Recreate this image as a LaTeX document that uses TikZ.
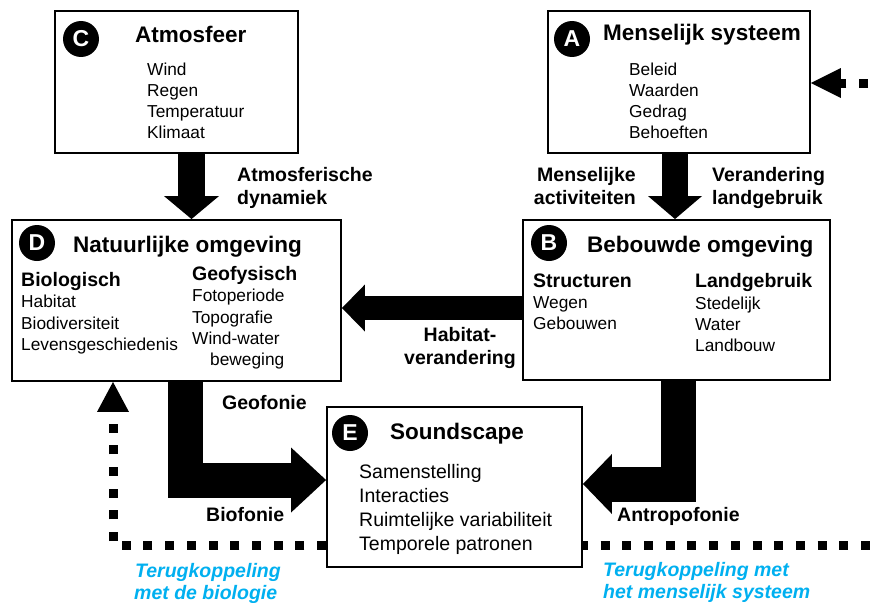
\documentclass[tikz,border=0pt]{standalone}
\usepackage{fontspec}
\setmainfont{Liberation Sans}
\usetikzlibrary{arrows.meta,calc}
\definecolor{fbblue}{RGB}{0,176,240}
\begin{document}
\begin{tikzpicture}[x=1pt,y=-1pt,
  box/.style={draw=black, line width=1.9pt, rectangle, inner sep=0pt, fill=white},
  badge/.style={circle, fill=black, text=white, minimum size=36pt, inner sep=0pt, font=\fontsize{23}{25}\selectfont\bfseries},
  title/.style={anchor=base west, inner sep=0pt, font=\fontsize{22.5}{26}\selectfont\bfseries},
  body/.style={anchor=base west, inner sep=0pt, font=\fontsize{17.3}{20}\selectfont},
  ebody/.style={anchor=base west, inner sep=0pt, font=\fontsize{19.5}{22}\selectfont},
  sub/.style={anchor=base west, inner sep=0pt, font=\fontsize{19.5}{22}\selectfont\bfseries},
  lab/.style={inner sep=0pt, font=\fontsize{19.5}{22}\selectfont\bfseries},
  fbtext/.style={anchor=base west, inner sep=0pt, text=fbblue, font=\fontsize{19.5}{22}\selectfont\bfseries\itshape},
  big/.style={draw=black, line width=#1, line join=miter, line cap=butt},
  fb/.style={draw=black, line width=9pt, dash pattern=on 9pt off 12.7pt, line cap=butt}
]
\useasboundingbox (0,0) rectangle (877,602);
\fill[white] (0,0) rectangle (877,602);

% boxes
\node[box, minimum width=243pt, minimum height=142pt] (C) at (176.5,82) {};
\node[box, minimum width=262pt, minimum height=142pt] (A) at (679,82) {};
\node[box, minimum width=329pt, minimum height=161pt] (D) at (176.5,300.5) {};
\node[box, minimum width=307pt, minimum height=160pt] (B) at (676.5,300) {};
\node[box, minimum width=255pt, minimum height=160pt] (E) at (454.5,487) {};

% badges
\node[badge] (bC) at (81,39) {C};
\node[badge] (bA) at (572,39) {A};
\node[badge] (bD) at (37,243) {D};
\node[badge] (bB) at (549,243) {B};
\node[badge] (bE) at (350,433) {E};

% titles
\node[title] (tC) at (135,42) {Atmosfeer};
\node[title] (tA) at (603,41) {Menselijk systeem};
\node[title] (tD) at (73,252) {Natuurlijke omgeving};
\node[title] (tB) at (587,252) {Bebouwde omgeving};
\node[title] (tE) at (390,439) {Soundscape};

% C items
\foreach \t [count=\i] in {Wind,Regen,Temperatuur,Klimaat}
  \node[body] (c\i) at (147,{75+21*(\i-1)}) {\t};
% A items
\foreach \t [count=\i] in {Beleid,Waarden,Gedrag,Behoeften}
  \node[body] (a\i) at (629,{75+21*(\i-1)}) {\t};

% D contents
\node[sub] (dbio) at (21,286) {Biologisch};
\foreach \t [count=\i] in {Habitat,Biodiversiteit,Levensgeschiedenis}
  \node[body] (db\i) at (21,{307.7+21.4*(\i-1)}) {\t};
\node[sub] (dgeo) at (192,280) {Geofysisch};
\foreach \t [count=\i] in {Fotoperiode,Topografie,Wind-water}
  \node[body] (dg\i) at (192,{301.7+21.3*(\i-1)}) {\t};
\node[body] (dg4) at (210,365.7) {beweging};

% B contents
\node[sub] (bstr) at (533,287) {Structuren};
\foreach \t [count=\i] in {Wegen,Gebouwen}
  \node[body] (bs\i) at (533,{308+21.4*(\i-1)}) {\t};
\node[sub] (bland) at (695,287) {Landgebruik};
\foreach \t [count=\i] in {Stedelijk,Water,Landbouw}
  \node[body] (bl\i) at (695,{309+21.4*(\i-1)}) {\t};

% E contents
\foreach \t [count=\i] in {Samenstelling,Interacties,Ruimtelijke variabiliteit,Temporele patronen}
  \node[ebody] (e\i) at (359,{478+24*(\i-1)}) {\t};

% thick arrows
\draw[big=27pt, -{Triangle[width=55pt,length=23pt,line width=0pt]}]
  ([xshift=15pt]C.south) -- ([xshift=15pt]C.south |- D.north);
\draw[big=26pt, -{Triangle[width=54pt,length=23pt,line width=0pt]}]
  ([xshift=-4pt]A.south) -- ([xshift=-4pt]A.south |- B.north);
\draw[big=24pt, -{Triangle[width=47pt,length=23pt,line width=0pt]}]
  ([yshift=-8pt]B.west) -- ([yshift=-8pt]B.west -| D.east);
\draw[big=35pt, -{Triangle[width=65pt,length=35pt,line width=0pt]}]
  ([xshift=9pt]D.south) |- ([yshift=7pt]E.west);
\draw[big=35pt, -{Triangle[width=60pt,length=29pt,line width=0pt]}]
  ([xshift=2pt]B.south) |- ([yshift=3pt]E.east);

% feedback dotted lines
\coordinate (fbL) at (113,545);
\coordinate (fbR) at (877,545);
\coordinate (fbT) at (877,83);
\draw[fb, -{Triangle[width=32pt,length=30pt,line width=0pt]}]
  (E.west |- fbL) -| (D.south -| fbL);
\draw[fb, dash phase=4pt] (E.east |- fbR) -- (fbR);
\draw[fb, dash phase=12.7pt, -{Triangle[width=30pt,length=30pt,line width=0pt]}]
  (fbT) -- (fbT -| A.east);

% arrow labels
\node[lab, anchor=base west] (l1a) at (237,181.7) {Atmosferische};
\node[lab, anchor=base west] (l1b) at (237,204) {dynamiek};
\node[lab, anchor=base east] (l2a) at (636,181.7) {Menselijke};
\node[lab, anchor=base east] (l2b) at (636,204) {activiteiten};
\node[lab, anchor=base west] (l3a) at (712,181.7) {Verandering};
\node[lab, anchor=base west] (l3b) at (712,204) {landgebruik};
\node[lab, anchor=base] (l4a) at (460,341.7) {Habitat-};
\node[lab, anchor=base] (l4b) at (460,364) {verandering};
\node[lab, anchor=base west] (l5) at (222,409) {Geofonie};
\node[lab, anchor=base west] (l6) at (206,521.7) {Biofonie};
\node[lab, anchor=base west] (l7) at (617,521.7) {Antropofonie};

% feedback labels
\node[fbtext] (f1a) at (135,577) {Terugkoppeling};
\node[fbtext] (f1b) at (134,599) {met de biologie};
\node[fbtext] (f2a) at (603,576) {Terugkoppeling met};
\node[fbtext] (f2b) at (603,598) {het menselijk systeem};
\end{tikzpicture}
\end{document}
